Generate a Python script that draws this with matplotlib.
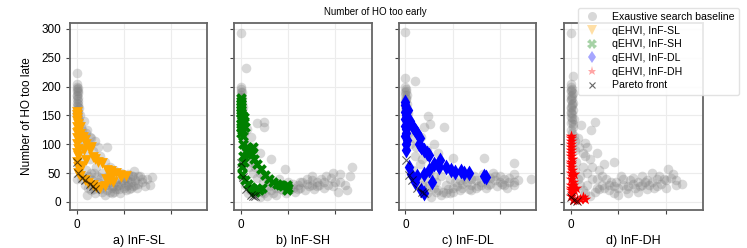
import matplotlib
matplotlib.use("Agg")
import matplotlib.pyplot as plt

plt.rcParams['font.family'] = ['Liberation Sans', 'DejaVu Sans']

# ---- data ----
panel_names = ['a) InF-SL', 'b) InF-SH', 'c) InF-DL', 'd) InF-DH']
legend_labels = ['Exaustive search baseline', 'qEHVI, InF-SL', 'qEHVI, InF-SH',
                 'qEHVI, InF-DL', 'qEHVI, InF-DH', 'Pareto front']

# a) InF-SL
base_sl = [(0, 205), (2, 198), (0, 192), (3, 188), (1, 183), (0, 178), (4, 175), (2, 170), (0, 166),
           (5, 162), (1, 158), (3, 154), (0, 150), (2, 146), (0, 223), (0, 195), (8, 150), (28, 113),
           (64, 96), (40, 105), (22, 125), (35, 88), (15, 140), (20, 120), (30, 110), (45, 95), (50, 80),
           (60, 70), (70, 60), (80, 55), (95, 50), (110, 48), (123, 53), (135, 45), (150, 40), (160, 44),
           (155, 30), (145, 28), (12, 40), (18, 30), (23, 12), (30, 20), (35, 28), (40, 15), (45, 35),
           (50, 22), (55, 18), (60, 30), (65, 20), (70, 35), (75, 25), (80, 18), (85, 28), (90, 22),
           (95, 32), (100, 25), (105, 20), (110, 30), (115, 35), (120, 28), (125, 38), (130, 32),
           (25, 45), (38, 50), (52, 42), (66, 45), (88, 40), (102, 42), (118, 45), (108, 38), (75, 15),
           (60, 12), (48, 25), (33, 38), (20, 55), (0, 40), (5, 60), (10, 70), (15, 85), (8, 95),
           (5, 110), (12, 125), (92, 15), (112, 22), (128, 25), (140, 35), (0, 185), (1, 172),
           (3, 165), (0, 160), (2, 180), (4, 192), (1, 200), (0, 155), (6, 140), (10, 130), (18, 100),
           (28, 75), (42, 60), (55, 50), (68, 40), (82, 35), (97, 38), (113, 40), (125, 30), (138, 40),
           (120, 45), (100, 35), (78, 28), (58, 35), (43, 45), (30, 50), (25, 25), (38, 22), (65, 30),
           (88, 30), (105, 28), (130, 45), (115, 25), (83, 22), (70, 17)]
opt_sl = [(0, 156), (0, 150), (0, 145), (0, 140), (2, 135), (0, 130), (7, 130), (3, 122), (7, 118),
          (10, 112), (14, 113), (18, 108), (21, 101), (0, 120), (0, 110), (0, 100), (2, 92), (0, 85),
          (4, 80), (0, 70), (2, 61), (28, 90), (35, 78), (46, 70), (53, 67), (64, 55), (74, 53),
          (84, 50), (92, 47), (95, 44), (105, 45), (74, 44), (78, 35), (60, 27), (50, 24), (35, 29),
          (18, 38), (3, 50), (8, 45), (12, 62), (20, 72), (15, 90), (30, 95), (40, 75), (62, 40),
          (70, 38), (25, 33), (42, 26)]
pareto_sl = [(0, 70), (3, 50), (11, 41), (18, 38), (28, 32), (35, 27), (39, 22)]

# b) InF-SH
base_sh = [(0, 200), (0, 195), (2, 190), (0, 185), (3, 180), (1, 175), (0, 170), (4, 165), (2, 160),
           (0, 155), (5, 150), (1, 145), (3, 140), (0, 135), (0, 293), (11, 233), (35, 136), (49, 139),
           (49, 130), (14, 127), (21, 113), (63, 74), (93, 58), (235, 60), (25, 95), (40, 85),
           (10, 100), (15, 80), (20, 70), (30, 60), (40, 50), (50, 45), (60, 40), (70, 35), (80, 32),
           (90, 30), (100, 28), (110, 32), (120, 30), (130, 35), (140, 32), (150, 38), (160, 35),
           (170, 40), (180, 45), (190, 42), (200, 35), (210, 48), (220, 30), (230, 45), (225, 20),
           (205, 18), (175, 25), (155, 22), (135, 20), (115, 18), (95, 15), (75, 12), (55, 10),
           (40, 8), (30, 15), (20, 20), (10, 30), (5, 40), (125, 25), (145, 28), (165, 30), (185, 30),
           (105, 22), (85, 22), (65, 20), (45, 18), (60, 28), (150, 45), (195, 50), (0, 190),
           (1, 182), (2, 172), (0, 162), (3, 152), (6, 120), (8, 105), (12, 90), (18, 60), (26, 50),
           (35, 42), (48, 35), (58, 30), (75, 25), (90, 20), (110, 25), (125, 35), (140, 40),
           (160, 28), (175, 35), (195, 28), (210, 35), (100, 35), (80, 40), (68, 15), (50, 15),
           (35, 22), (15, 15), (120, 22), (150, 30)]
opt_sh = [(0, 180), (0, 175), (0, 170), (0, 165), (1, 160), (0, 155), (2, 150), (0, 145), (3, 140),
          (0, 135), (1, 130), (2, 125), (0, 120), (4, 115), (6, 148), (8, 140), (10, 130), (13, 95),
          (18, 90), (23, 83), (29, 75), (35, 66), (42, 58), (51, 46), (60, 40), (69, 35), (76, 32),
          (83, 29), (90, 27), (97, 21), (97, 29), (100, 25), (3, 61), (3, 49), (10, 38), (15, 32),
          (21, 26), (26, 22), (31, 18), (38, 20), (45, 24), (11, 89), (25, 95), (20, 85), (5, 100),
          (5, 80), (8, 70)]
pareto_sh = [(1, 68), (4, 44), (11, 23), (21, 12), (26, 11), (31, 10)]

# c) InF-DL
base_dl = [(0, 200), (2, 195), (0, 190), (3, 185), (1, 180), (0, 175), (4, 170), (2, 165), (0, 160),
           (5, 155), (1, 150), (0, 295), (0, 214), (20, 210), (47, 149), (53, 135), (82, 130),
           (40, 130), (33, 113), (100, 76), (167, 77), (231, 67), (266, 40), (231, 49), (231, 35),
           (60, 100), (45, 90), (70, 85), (40, 40), (50, 30), (60, 25), (70, 20), (80, 18), (90, 22),
           (100, 25), (110, 28), (120, 32), (130, 35), (140, 30), (150, 38), (160, 35), (170, 40),
           (180, 42), (190, 38), (200, 45), (210, 40), (220, 42), (230, 30), (215, 25), (195, 28),
           (175, 30), (155, 28), (135, 22), (115, 20), (95, 15), (75, 12), (55, 8), (45, 15), (35, 30),
           (25, 45), (15, 55), (125, 40), (145, 45), (165, 48), (185, 50), (205, 32), (65, 35),
           (85, 30), (105, 35), (50, 50), (30, 65), (20, 80), (10, 100), (5, 120), (0, 185),
           (1, 192), (2, 178), (0, 168), (3, 158), (8, 140), (15, 110), (22, 95), (35, 75), (55, 60),
           (75, 45), (95, 40), (115, 38), (140, 40), (160, 30), (180, 32), (200, 35), (220, 35),
           (240, 38), (100, 18), (120, 25), (140, 20), (65, 18), (85, 15), (45, 25), (60, 45),
           (150, 25), (190, 45), (170, 25), (210, 30)]
opt_dl = [(0, 174), (0, 168), (1, 162), (0, 156), (2, 150), (0, 144), (3, 138), (0, 132), (1, 126),
          (2, 120), (0, 114), (4, 108), (2, 100), (6, 160), (10, 140), (15, 130), (20, 125), (25, 119),
          (30, 110), (33, 96), (28, 100), (40, 90), (45, 85), (51, 81), (73, 72), (72, 61), (96, 56),
          (117, 53), (135, 50), (167, 45), (171, 44), (57, 35), (39, 49), (11, 49), (7, 61), (2, 90),
          (33, 21), (39, 15), (20, 35), (25, 45), (50, 55), (60, 65), (85, 60), (105, 52), (125, 50)]
pareto_dl = [(1, 73), (7, 47), (14, 38), (25, 24), (36, 18), (39, 15)]

# d) InF-DH
base_dh = [(0, 200), (2, 196), (0, 192), (4, 188), (1, 184), (3, 180), (0, 176), (5, 172), (2, 168),
           (0, 164), (4, 160), (1, 156), (3, 152), (0, 148), (6, 144), (2, 140), (0, 136), (4, 130),
           (1, 125), (3, 120), (0, 292), (5, 218), (21, 133), (50, 139), (43, 125), (29, 102),
           (90, 70), (60, 55), (170, 50), (204, 57), (234, 31), (220, 38), (15, 110), (35, 95),
           (55, 85), (40, 75), (25, 85), (70, 65), (10, 90), (15, 40), (20, 30), (25, 20), (30, 15),
           (40, 10), (50, 18), (60, 22), (70, 25), (80, 20), (90, 28), (100, 25), (110, 30), (120, 28),
           (130, 32), (140, 35), (150, 30), (160, 38), (170, 35), (180, 40), (190, 32), (200, 38),
           (210, 42), (220, 30), (200, 25), (180, 28), (160, 22), (140, 18), (120, 15), (100, 12),
           (85, 35), (75, 40), (65, 45), (45, 40), (35, 50), (25, 60), (110, 40), (130, 42),
           (150, 45), (185, 45), (215, 48), (12, 70), (0, 205), (1, 194), (2, 186), (0, 178),
           (3, 170), (1, 162), (0, 154), (2, 146), (5, 135), (7, 115), (10, 105), (18, 95), (30, 80),
           (45, 60), (55, 40), (65, 30), (80, 30), (95, 35), (115, 22), (135, 25), (155, 35),
           (175, 25), (195, 40), (125, 38), (105, 45), (90, 15), (55, 25), (35, 30), (20, 45),
           (10, 55), (165, 30), (145, 28)]
opt_dh = [(0, 115), (0, 110), (0, 105), (0, 100), (0, 95), (1, 90), (0, 85), (0, 80), (2, 75), (0, 70),
          (1, 65), (0, 60), (3, 55), (0, 50), (2, 45), (0, 40), (4, 35), (0, 30), (1, 25), (0, 20),
          (3, 15), (0, 10), (7, 48), (11, 25), (29, 5), (14, 3), (4, 3), (5, 30), (8, 20), (20, 6),
          (25, 8)]
pareto_dh = [(0, 9), (7, 3), (14, 2)]

baselines = [base_sl, base_sh, base_dl, base_dh]
optimised = [opt_sl, opt_sh, opt_dl, opt_dh]
paretos = [pareto_sl, pareto_sh, pareto_dl, pareto_dh]
colors = ['orange', 'green', 'blue', 'red']
markers = ['v', 'X', 'd', '*']
sizes = [60, 60, 65, 75]

# axes placement in figure fractions
lefts = [0.0937, 0.3133, 0.534, 0.755]
widths = [0.1834, 0.1847, 0.1834, 0.186]

fig = plt.figure(figsize=(7.47, 2.48), dpi=100)
handles = []
for i in range(4):
        ax = fig.add_axes([lefts[i], 0.153, widths[i], 0.754])
        ax.set_axisbelow(True)
        ax.grid(True, color='#ececec', linewidth=0.8)
        bx = [p[0] for p in baselines[i]]
        by = [p[1] for p in baselines[i]]
        h0 = ax.scatter(bx, by, s=48, color='gray', alpha=0.3, linewidths=0)
        ox = [p[0] for p in optimised[i]]
        oy = [p[1] for p in optimised[i]]
        h1 = ax.scatter(ox, oy, s=sizes[i], color=colors[i], marker=markers[i], linewidths=0)
        px = [p[0] for p in paretos[i]]
        py = [p[1] for p in paretos[i]]
        h2 = ax.scatter(px, py, s=35, color='black', marker='x', alpha=0.6, linewidths=0.8)
        if i == 0:
                handles.append(h0)
        handles.append(h1)
        ax.set_xlim(-14, 277)
        ax.set_ylim(-14, 310)
        ax.set_xticks([0, 100, 200])
        ax.set_xticklabels(['0', '', ''])
        ax.set_yticks([0, 50, 100, 150, 200, 250, 300])
        if i == 0:
                ax.set_ylabel('Number of HO too late', fontsize=8.5, labelpad=6)
        else:
                ax.set_yticklabels([])
        ax.tick_params(labelsize=8.5, length=3, color='#444444', width=0.8)
        for s in ax.spines.values():
                s.set_color('#666666')
                s.set_linewidth(1.3)
        ax.set_xlabel(panel_names[i], fontsize=9, labelpad=3)
handles.append(h2)

# legend handles: lighter markers as in the reference
leg_handles = []
for k, h in enumerate(handles):
        if k == 0:
                leg_handles.append(plt.Line2D([], [], linestyle='', marker='o', markersize=6.5,
                                              color='gray', alpha=0.3, markeredgewidth=0))
        elif k < 5:
                leg_handles.append(plt.Line2D([], [], linestyle='', marker=markers[k - 1], markersize=6.5,
                                              color=colors[k - 1], alpha=0.35, markeredgewidth=0))
        else:
                leg_handles.append(plt.Line2D([], [], linestyle='', marker='x', markersize=5,
                                              color='black', alpha=0.6, markeredgewidth=0.8))
fig.legend(leg_handles, legend_labels, loc='upper right', bbox_to_anchor=(0.996, 0.99),
           fontsize=7.6, handletextpad=1.0, handlelength=1.8, labelspacing=0.35, borderpad=0.4,
           framealpha=0.85, edgecolor='#dddddd')

fig.text(0.503, 0.952, 'Number of HO too early', ha='center', va='center', fontsize=7)

fig.savefig('out.png', dpi=100)
